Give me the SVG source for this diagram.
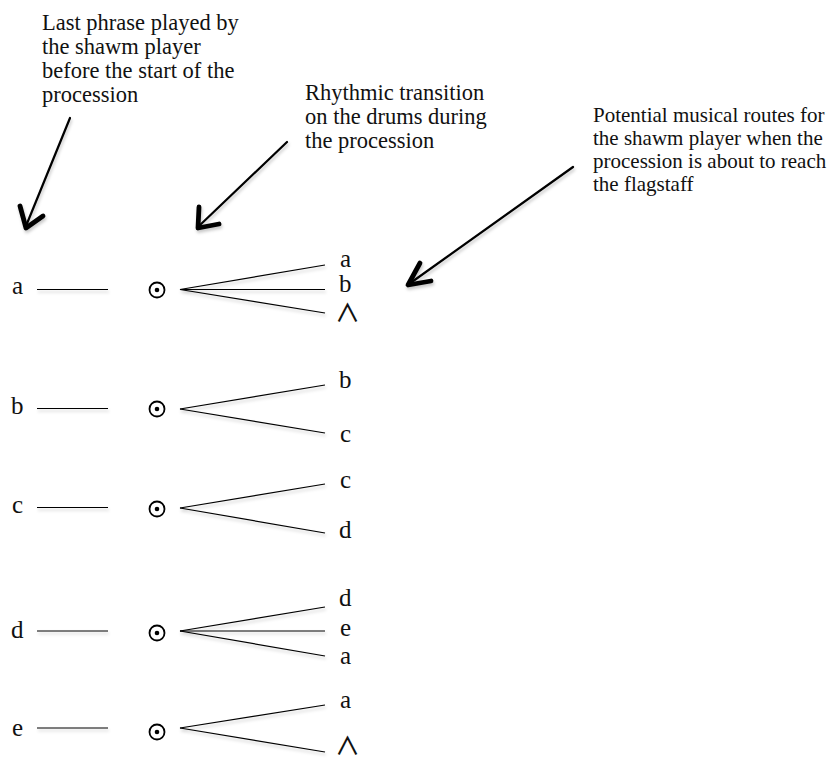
<svg xmlns="http://www.w3.org/2000/svg" width="832" height="758" viewBox="0 0 832 758">
<style>
.ann{font-family:"Liberation Serif","Times New Roman",serif;font-size:22.5px;fill:#111}
.ann3{font-family:"Liberation Serif","Times New Roman",serif;font-size:21px;fill:#111}
.lbl{font-family:"Liberation Serif","Times New Roman",serif;font-size:25px;fill:#111}
.wedge{font-family:"Noto Sans CJK JP","DejaVu Sans",sans-serif;font-size:25px;font-weight:500;fill:#111}
.ln{stroke:#000;stroke-width:1.2;fill:none}
.arr{stroke:#000;stroke-width:2.2;fill:none;stroke-linecap:round}
.head{stroke:#000;stroke-width:4.8;fill:none;stroke-linecap:round;stroke-linejoin:round}
.dotc{fill:none;stroke:#000;stroke-width:1.8}
</style>
<defs>
<filter id="sh" filterUnits="userSpaceOnUse" x="0" y="0" width="832" height="758">
<feDropShadow dx="1" dy="2.5" stdDeviation="1.5" flood-color="#000" flood-opacity="0.22"/>
</filter>
</defs>
<rect width="832" height="758" fill="#fff"/>

<g id="annotation-last-phrase">
<text class="ann" x="42" y="30">Last phrase played by</text>
<text class="ann" x="42" y="54">the shawm player</text>
<text class="ann" x="42" y="78">before the start of the</text>
<text class="ann" x="42" y="102">procession</text>
</g>
<g id="annotation-rhythmic">
<text class="ann" x="305" y="100">Rhythmic transition</text>
<text class="ann" x="305" y="124">on the drums during</text>
<text class="ann" x="305" y="148">the procession</text>
</g>
<g id="annotation-routes">
<text class="ann3" x="593" y="122">Potential musical routes for</text>
<text class="ann3" x="593" y="145">the shawm player when the</text>
<text class="ann3" x="593" y="168">procession is about to reach</text>
<text class="ann3" x="593" y="191">the flagstaff</text>
</g>

<g id="connectors" filter="url(#sh)">
<line class="arr" x1="70" y1="118" x2="26" y2="226"/>
<path class="head" d="M20,206 L26,228 L43,216"/>
<line class="arr" x1="287" y1="142" x2="199" y2="226"/>
<path class="head" d="M199,207 L198,228 L219,224"/>
<line class="arr" x1="573" y1="167" x2="409" y2="284"/>
<path class="head" d="M420,263 L408,285 L431,281"/>

<line class="ln" x1="37" y1="289.5" x2="108" y2="289.5"/>
<line class="ln" x1="180" y1="289.5" x2="325" y2="265"/>
<line class="ln" x1="180" y1="289.5" x2="325" y2="289.5"/>
<line class="ln" x1="180" y1="289.5" x2="325" y2="313"/>

<line class="ln" x1="37" y1="408.5" x2="108" y2="408.5"/>
<line class="ln" x1="180" y1="409" x2="325" y2="385"/>
<line class="ln" x1="180" y1="409" x2="325" y2="433"/>

<line class="ln" x1="37" y1="507.5" x2="108" y2="507.5"/>
<line class="ln" x1="180" y1="508" x2="325" y2="484"/>
<line class="ln" x1="180" y1="508" x2="325" y2="533"/>

<line class="ln" x1="37" y1="631" x2="108" y2="631"/>
<line class="ln" x1="180" y1="631" x2="325" y2="607"/>
<line class="ln" x1="180" y1="631" x2="325" y2="631"/>
<line class="ln" x1="180" y1="631" x2="325" y2="656"/>

<line class="ln" x1="37" y1="728" x2="108" y2="728"/>
<line class="ln" x1="180" y1="728" x2="325" y2="705"/>
<line class="ln" x1="180" y1="728" x2="325" y2="752"/>
</g>

<g id="row-a">
<text class="lbl" x="12" y="294">a</text>
<g id="drum-a"><circle class="dotc" cx="157" cy="290" r="7.5"/><circle cx="157" cy="290" r="2.3"/></g>
<text class="lbl" x="340" y="267">a</text>
<text class="lbl" x="339" y="292">b</text>
<text class="wedge" x="335" y="322">∧</text>
</g>
<g id="row-b">
<text class="lbl" x="11" y="414">b</text>
<g id="drum-b"><circle class="dotc" cx="157" cy="409" r="7.5"/><circle cx="157" cy="409" r="2.3"/></g>
<text class="lbl" x="339" y="388">b</text>
<text class="lbl" x="340" y="442">c</text>
</g>
<g id="row-c">
<text class="lbl" x="12" y="513">c</text>
<g id="drum-c"><circle class="dotc" cx="157" cy="509" r="7.5"/><circle cx="157" cy="509" r="2.3"/></g>
<text class="lbl" x="340" y="488">c</text>
<text class="lbl" x="339" y="538">d</text>
</g>
<g id="row-d">
<text class="lbl" x="11" y="638">d</text>
<g id="drum-d"><circle class="dotc" cx="157" cy="633" r="7.5"/><circle cx="157" cy="633" r="2.3"/></g>
<text class="lbl" x="339" y="606">d</text>
<text class="lbl" x="340" y="636">e</text>
<text class="lbl" x="340" y="664">a</text>
</g>
<g id="row-e">
<text class="lbl" x="12" y="736">e</text>
<g id="drum-e"><circle class="dotc" cx="157" cy="732" r="7.5"/><circle cx="157" cy="732" r="2.3"/></g>
<text class="lbl" x="340" y="708">a</text>
<text class="wedge" x="335" y="755">∧</text>
</g>
</svg>
